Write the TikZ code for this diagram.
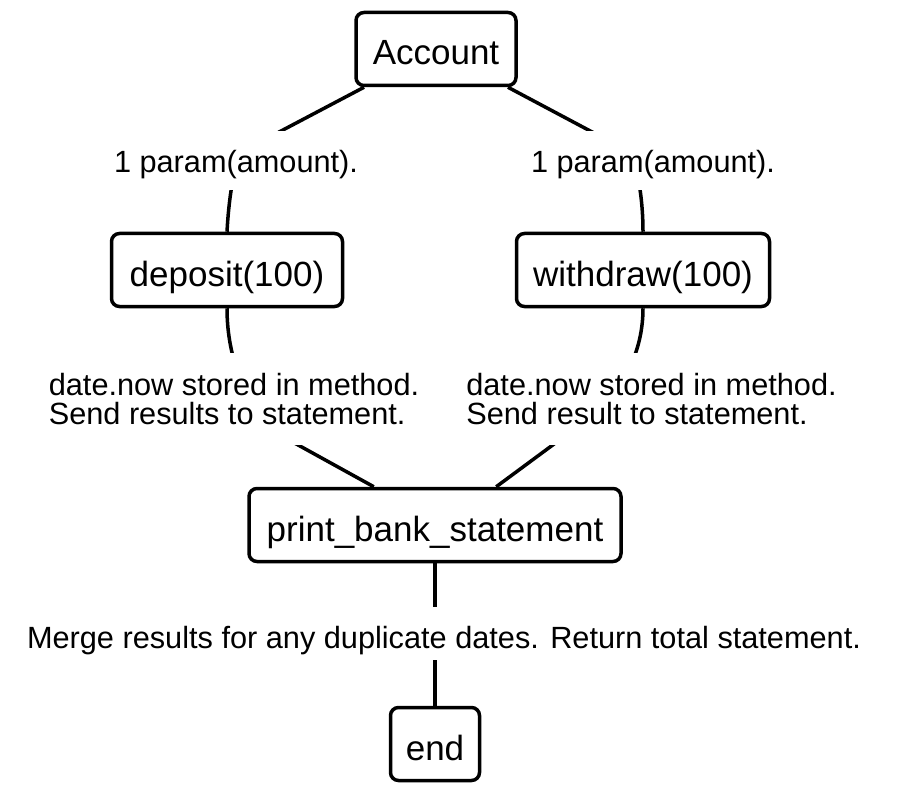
\documentclass[tikz,border=0pt]{standalone}
\usepackage{fontspec}
\setmainfont{Liberation Sans}
\begin{document}
\begin{tikzpicture}[x=1pt,y=-1pt,
  box/.style={draw, line width=3.5pt, rounded corners=8pt, fill=white,
    font=\fontsize{35}{40}\selectfont, minimum height=73pt, inner sep=0pt,
    text height=36pt, text depth=4pt},
  lbl/.style={fill=white, inner xsep=2pt, inner ysep=0pt,
    font=\fontsize{30.7}{29}\selectfont},
  edge/.style={line width=3.5pt}]
\useasboundingbox (0,0) rectangle (912,794);
\node[box, minimum width=160pt] (acc) at (436,49) {Account};
\node[box, minimum width=231pt] (dep) at (227,270) {deposit(100)};
\node[box, minimum width=253pt] (wd) at (643,270) {withdraw(100)};
\node[box, minimum width=372pt] (pbs) at (435,525) {print\_bank\_statement};
\node[box, minimum width=89pt] (end) at (435,744) {end};
% edges
\draw[edge] (acc.208) -- (245,150) .. controls (235,156) and (229,195) .. (dep.north);
\draw[edge] (acc.332) -- (626,150) .. controls (636,156) and (643,195) .. (wd.north);
\draw[edge] (dep.south) .. controls (227,350) and (240,400) .. (280,435) -- (pbs.148);
\draw[edge] (wd.south) .. controls (643,350) and (625,395) .. (573,430) -- (pbs.32);
\draw[edge] (pbs.south) -- (end.north);
% labels
\node[lbl, minimum height=59pt, text height=29pt, text depth=4pt] (l1) at (236,160.5) {1 param(amount).};
\node[lbl, minimum height=59pt, text height=29pt, text depth=4pt] (l2) at (653,160.5) {1 param(amount).};
\node[lbl, minimum height=92pt, align=left] (l3) at (234,399) {date.now stored in method.\\Send results to statement.};
\node[lbl, minimum height=92pt, align=left] (l4) at (651.5,399) {date.now stored in method.\\Send result to statement.};
\node[lbl, minimum height=53pt, text height=31pt, text depth=2pt] (l5) at (444,633.5) {Merge results for any duplicate dates. Return total statement.};
\end{tikzpicture}
\end{document}
